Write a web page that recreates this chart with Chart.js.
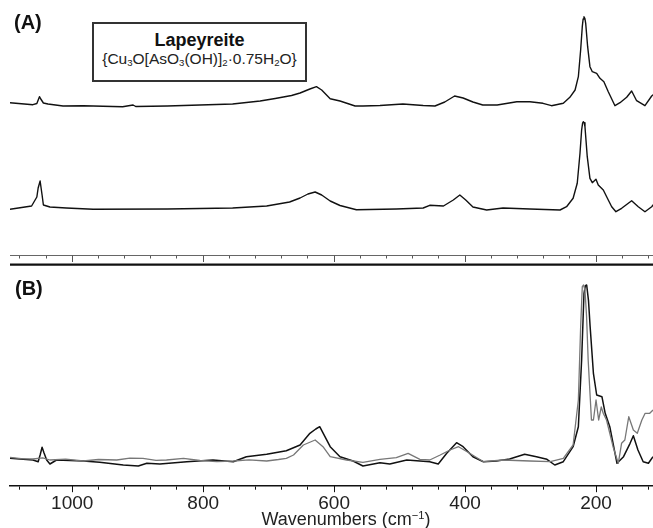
<!DOCTYPE html>
<html><head><meta charset="utf-8">
<script src="https://cdn.jsdelivr.net/npm/chart.js@4/dist/chart.umd.min.js"></script>
<style>
html,body{margin:0;padding:0;background:#fff;overflow:hidden;width:653px;height:528px}
#wrap{position:relative;width:653px;height:528px;font-family:"Liberation Sans",Arial,Helvetica,sans-serif}
canvas{position:absolute;left:0}
#cA{top:0}
#cB{top:266px}
.panel{position:absolute;font-weight:bold;font-size:20px;line-height:20px;color:#111;white-space:nowrap}
#box{position:absolute;left:92px;top:22px;width:215px;height:60px;border:2px solid #333;box-sizing:border-box;background:#fff}
.bt{position:absolute;left:92px;width:215px;text-align:center;color:#222;white-space:nowrap}
#name{top:31px;font-weight:bold;font-size:18px;line-height:18px;color:#111}
#formula{top:51px;font-size:15.5px;line-height:15.5px}
#formula sub{font-size:0.62em;vertical-align:-0.2em;line-height:0}
#xtitle{position:absolute;left:246px;width:200px;top:510px;text-align:center;font-size:18px;line-height:18px;color:#222;white-space:nowrap}
#xtitle sup{font-size:0.62em;vertical-align:0.55em;line-height:0}
</style>
</head><body>
<div id="wrap">
<canvas id="cA" width="653" height="266"></canvas>
<canvas id="cB" width="653" height="262"></canvas>
<div class="panel" style="left:14px;top:12px">(A)</div>
<div class="panel" style="left:15px;top:278px">(B)</div>
<div id="box"></div>
<div class="bt" id="name">Lapeyreite</div>
<div class="bt" id="formula">{Cu<sub>3</sub>O[AsO<sub>3</sub>(OH)]<sub>2</sub>·0.75H<sub>2</sub>O}</div>
<div id="xtitle">Wavenumbers (cm<sup>−1</sup>)</div>
</div>
<script>
// ---- Data (wavenumber in cm-1, Raman intensity in arbitrary units) ----
const wnA_top = [1095,1060,1054,1050,1048,1044,1037,1014,983,923,907,903,855,805,755,713,690,665,652,637,627,619,606,591,568,556,530,495,464,446,431,416,403,388,373,351,321,301,281,268,250,240,232,227,223.5,221,219.7,218.4,217,215.8,212.8,209.3,205.7,199,194,188,181.3,171.1,163.4,153.2,145.6,138,125.3,115,108.5];
const intA_top = [152.8,150.8,152,158.8,156.5,152.5,151.5,149.5,149.8,148.8,150.5,149,149.5,150.5,151.5,154.5,157,160,162.5,166.5,168.8,165.5,156.8,154.5,149.5,149.5,150,151.5,150,149.5,153.5,159.5,157.5,153.5,150.5,150.5,153.8,153.8,152.2,149.8,152.2,158.2,165.5,178.8,205.5,228.8,236.5,238.8,237,232.2,208.8,188.8,183.8,182.2,177.2,173.8,163.8,149.8,152.8,158.2,164.5,154.8,149.8,159.5,163];

const wnA_bottom = [1095,1062,1054,1052,1049,1046,1044,1034,1009,968,855,755,703,668,652,640,629,619,606,591,566,505,464,454,433,418,408,399,388,367,342,301,255,245,235,228.7,224.5,222,220.5,219.5,218.2,216.9,213.4,209.3,205.7,200.1,196.6,188.9,181.3,176.1,169.6,160.9,145.6,135.5,125.3,115,110];
const intA_bottom = [46.2,49.5,58.5,67.5,74.5,60.5,50.5,48.5,47.5,46.2,46.5,47.5,49.5,53.5,57.5,61.5,63.5,60.5,54.5,50,45.8,46.5,47.5,50.2,49.5,55.5,60.5,55.5,48.5,45.5,47.5,46.5,45.5,48.8,57.2,72.2,102.2,125.5,132.5,133.8,132.8,128.8,98.8,77.2,72.8,76.2,70.5,65.5,55.5,48.8,43.8,47.2,54.8,48.8,43.8,48.8,53];

const wnB_black = [1095,1060,1052,1049,1046,1043,1039,1034,1024,983,958,922,899,886,866,825,785,754,734,703,673,652,637,628,622,614,606,591,571,556,530,515,489,454,441,428,413,403,388,372,352,332,309,291,275,263,250,235,227,222,218.4,216.3,214.3,211.5,209,204,199,191,186,179,168,158,148,143,136,128,120,113];
const intB_black = [27.4,25.7,24,30.7,38.4,32.7,25.7,21.7,25.7,24.7,23.4,20.7,19.7,22.4,21.7,24,25.7,24,29,31.4,35,40.7,52.4,56.7,59,49,39,29,24.7,19.7,23,21.7,25.7,24,21.7,32.4,43,39,29,24,24.7,26.7,31.4,29,26.4,20.7,24,39,59,125.7,192.4,200,200.7,185,159,112.4,90.7,89,72.4,59,22.4,29,42.4,50,35.7,24,22.4,29];

const wnB_gray = [1095,1078,1060,1045,1034,1010,983,960,932,912,892,872,856,830,805,779,754,730,703,685,673,662,647,629,617,606,581,556,530,505,487,469,454,438,423,410,393,372,342,301,270,250,235,227,223.5,221,219,216.9,214.5,212,207,204,200,196,192,189,184,174,166,161,156,150,143,137,130,125,118,113];
const intB_gray = [28.4,27,26.7,27.8,25.7,26.5,24.7,26.2,25.7,27.6,27.4,25.3,25.7,27.4,25.2,24,24.7,25.8,24.7,26.2,27.4,30.7,40.7,45.7,39,29,25.7,23.4,26.4,28,32.4,26.4,25.7,30.7,35.7,39,32.4,24,25.7,24.7,24,27.4,40.7,85.7,159,199,200.7,195.7,170,125.7,65.7,65.7,85.7,65.7,78.7,72.4,65.7,39,22.4,42.4,45.7,69,55.7,52.4,65.7,72.4,72.4,75.7];

const tickValues = [1080,1040,1000,960,920,880,840,800,760,720,680,640,600,560,520,480,440,400,360,320,280,240,200,160,120];
const majorTicks = [1000,800,600,400,200];
const xRange = {max:1095, min:113};

const toXY = (xs, ys) => xs.map((x, i) => ({x, y: ys[i]}));

const tickMarks = {
  id: 'tickMarks',
  afterDraw(chart, args, opts) {
    const {ctx, chartArea, scales: {x}} = chart;
    ctx.save();
    ctx.strokeStyle = opts.color;
    ctx.lineWidth = 1;
    for (const v of majorTicks) {
      const px = Math.round(x.getPixelForValue(v)) + 0.5;
      ctx.beginPath();
      ctx.moveTo(px, chartArea.bottom);
      ctx.lineTo(px, chartArea.bottom + opts.major);
      ctx.stroke();
    }
    if (opts.separator) {
      ctx.strokeStyle = '#111';
      ctx.lineWidth = 2.4;
      ctx.beginPath();
      ctx.moveTo(chartArea.left, opts.separator);
      ctx.lineTo(chartArea.right, opts.separator);
      ctx.stroke();
    }
    ctx.restore();
  }
};

function xScale(extra) {
  return Object.assign({
    type: 'linear', reverse: true, min: xRange.min, max: xRange.max,
    afterBuildTicks: s => { s.ticks = tickValues.map(v => ({value: v})); }
  }, extra);
}

const lineDs = (data, color, w) => ({data, borderColor: color, borderWidth: w, pointRadius: 0, tension: 0, fill: false, borderJoinStyle: 'round'});

new Chart(document.getElementById('cA'), {
  type: 'line',
  data: {datasets: [lineDs(toXY(wnA_top, intA_top), '#111', 1.4), lineDs(toXY(wnA_bottom, intA_bottom), '#111', 1.4)]},
  options: {
    responsive: false, animation: false, events: [],
    layout: {padding: {left: 10, right: 0, top: 0, bottom: 7.5}},
    plugins: {legend: {display: false}, tooltip: {enabled: false}, tickMarks: {major: 6.5, color: '#555', separator: 264.6}},
    scales: {
      x: xScale({
        afterFit: s => { s.height = 3; },
        ticks: {display: false},
        grid: {drawOnChartArea: false, tickLength: 3, tickColor: '#555'},
        border: {color: '#666', width: 1}
      }),
      y: {display: false, min: 0, max: 255.5}
    }
  },
  plugins: [tickMarks]
});

new Chart(document.getElementById('cB'), {
  type: 'line',
  data: {datasets: [lineDs(toXY(wnB_gray, intB_gray), '#777', 1.3), lineDs(toXY(wnB_black, intB_black), '#111', 1.5)]},
  options: {
    responsive: false, animation: false, events: [],
    layout: {padding: {left: 10, right: 0, top: 0, bottom: 12.3}},
    plugins: {legend: {display: false}, tooltip: {enabled: false}, tickMarks: {major: 6.5, color: '#111'}},
    scales: {
      x: xScale({
        afterFit: s => { s.height = 30; },
        ticks: {
          autoSkip: false, maxRotation: 0, padding: 2.5, color: '#222',
          font: {family: '"Liberation Sans", Arial, sans-serif', size: 19},
          callback: v => majorTicks.includes(v) ? String(v) : ''
        },
        grid: {drawOnChartArea: false, tickLength: 4, tickColor: '#111'},
        border: {color: '#111', width: 1.5}
      }),
      y: {display: false, min: 0, max: 219.7}
    }
  },
  plugins: [tickMarks]
});
</script>
</body></html>
